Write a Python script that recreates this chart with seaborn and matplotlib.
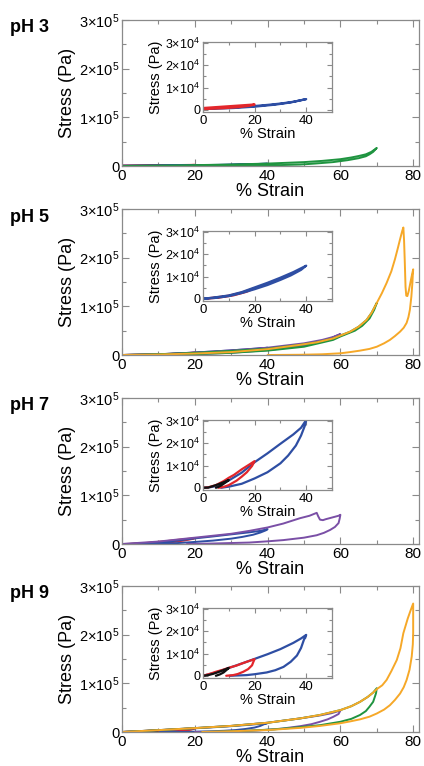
import matplotlib
matplotlib.use("Agg")
import matplotlib.pyplot as plt
import seaborn as sns
from matplotlib.ticker import FixedLocator, MultipleLocator, FuncFormatter

# ---------------------------------------------------------------------------
# DATA  (strain in %, stress in Pa; each loop = loading then unloading)
# ---------------------------------------------------------------------------
PH3_RED_X = [0, 5, 10, 15, 20, 18, 14, 8, 2, 0]
PH3_RED_Y = [800, 1200, 1600, 2000, 2400, 1800, 1200, 700, 400, 300]
PH3_BLUE_X = [0, 5, 10, 15, 20, 25, 30, 35, 40, 38, 34, 28, 20, 12, 5, 0]
PH3_BLUE_Y = [500, 800, 1000, 1300, 1700, 2200, 2800, 3600, 4800, 4300, 3300, 2300, 1400, 800, 500, 400]
PH3_GREEN_X = [0, 10, 20, 30, 40, 50, 55, 60, 63, 65, 67, 68.5, 70,
               69.5, 69, 68, 67, 65, 62, 58, 53, 49, 40, 30, 20]
PH3_GREEN_Y = [0, 800, 1800, 3000, 5000, 8000, 10500, 14000, 17500, 20500, 24000, 29000, 37000,
               33000, 29000, 24000, 20000, 16000, 12000, 8000, 5000, 3000, 1200, 400, 0]

PH5_RED_X = [0, 5, 10, 15, 20, 17, 12, 6, 0]
PH5_RED_Y = [0, 600, 1400, 2800, 4800, 3200, 1600, 500, 0]
PH5_BLUE_X = [0, 5, 10, 15, 20, 25, 30, 35, 40, 38, 34, 30, 25, 20, 15, 10, 5, 0]
PH5_BLUE_Y = [0, 700, 1500, 3000, 5100, 7200, 9500, 12000, 14900,
              13000, 10500, 8500, 6200, 4300, 2600, 1200, 400, 0]
PH5_PURPLE_X = [0, 10, 20, 30, 40, 50, 55, 58, 60, 58, 55, 50, 40, 30, 20, 10, 5]
PH5_PURPLE_Y = [0, 1500, 5000, 9500, 15000, 24000, 31000, 37000, 43000,
                36000, 28000, 19000, 10000, 4500, 1600, 300, 0]
PH5_GREEN_X = [0, 10, 20, 30, 40, 49, 53.5, 58, 62.7, 65, 67.2, 68.6, 70,
               69.3, 68, 66, 64, 60, 58, 50, 40, 30, 21, 10, 0]
PH5_GREEN_Y = [0, 1500, 4500, 8500, 13000, 21000, 26000, 34000, 48000, 58000, 72000, 87000, 107000,
               93000, 75000, 60000, 50000, 38000, 31000, 17000, 9000, 4500, 2000, 300, 0]
PH5_ORANGE_X = [0, 10, 20, 30, 40, 49, 53.5, 58, 62.7, 65, 67.2, 68.6, 70, 71.4, 72.7, 74, 75,
                75.8, 76.4, 77, 77.3,
                77.5, 77.7, 77.9, 78.1, 78.4, 78.8, 79.4, 80,
                79.9, 79.8, 79.5, 79.1, 78.7, 78.2, 77.4, 76.4, 75, 73.6, 72, 70, 68, 65.4,
                62.5, 60, 55, 49, 40]
PH5_ORANGE_Y = [0, 1000, 3000, 6000, 12000, 21000, 26000, 34000, 48000, 58000, 72000, 87000,
                107000, 127000, 148000, 172000, 197000, 220000, 238000, 255000, 262000,
                235000, 190000, 140000, 122000, 121000, 132000, 155000, 176000,
                165000, 150000, 120000, 93000, 78000, 66000, 56000, 48000, 39000, 31000,
                24000, 17000, 12500, 9000, 5800, 3500, 1500, 500, 0]

PH7_BLACK_X = [0, 2, 4, 6, 8, 10, 9, 8, 7, 6, 5]
PH7_BLACK_Y = [0, 100, 800, 1600, 2500, 3500, 2600, 1800, 1000, 400, 0]
PH7_RED_X = [0, 2, 5, 8, 10, 12, 15, 18, 20, 19, 17, 15, 13, 10, 8, 6]
PH7_RED_Y = [0, 200, 1200, 3000, 4500, 5800, 8300, 10500, 12000,
             9800, 7000, 5000, 3200, 1200, 400, 0]
PH7_BLUE_X = [0, 3, 6, 10, 15, 20, 25, 30, 35, 38, 40,
              39.5, 38, 36, 33, 30, 25, 20, 15, 10, 7]
PH7_BLUE_Y = [0, 300, 1000, 3300, 6800, 11500, 15500, 19800, 24000, 27000, 30500,
              28000, 23500, 19000, 14500, 11000, 7000, 4200, 1800, 500, 0]
PH7_PURPLE_X = [0, 10, 20, 30, 35, 40, 44.3, 48.9, 51.5, 53.5, 53.9, 54.4, 55.2, 56, 58, 59.5, 60,
                59.8, 59.5, 58.5, 57.2, 55.5, 53.5, 50, 44.3, 40, 35, 25, 17.8]
PH7_PURPLE_Y = [0, 5000, 13000, 21000, 27000, 34000, 42000, 53000, 58000, 64000, 57000, 50000,
                49000, 51000, 55000, 58000, 60000,
                52000, 43000, 35000, 29000, 23000, 18000, 13000, 8000, 5500, 3000, 1000, 0]

PH9_BLACK_X = [0, 2, 4, 6, 8, 10, 9, 8, 6.5, 5]
PH9_BLACK_Y = [0, 300, 900, 1700, 2600, 3500, 2500, 1500, 600, 0]
PH9_RED_X = [0, 3, 5, 8, 10, 13, 15, 18, 20, 19.5, 19, 17.5, 15.6, 13.5, 11.7, 9]
PH9_RED_Y = [0, 1000, 1800, 2800, 3600, 4600, 5500, 6700, 7500,
             6200, 4700, 3000, 1800, 800, 300, 0]
PH9_BLUE_X = [0, 5, 10, 15, 20, 25, 30, 35, 38, 40,
              39.6, 39.2, 38, 36.4, 34, 31.2, 28, 24.7, 20, 16.9, 10.4]
PH9_BLUE_Y = [0, 1500, 3500, 5500, 7600, 9700, 12000, 14800, 16800, 18400,
              17000, 16500, 12500, 9100, 6300, 4000, 2500, 1500, 700, 300, 0]
PH9_PURPLE_X = [0, 10, 20, 30, 40, 49, 54.4, 57.5, 60,
                59.5, 58, 56.5, 54.4, 52, 49, 44, 38, 32, 26, 20]
PH9_PURPLE_Y = [0, 3800, 8000, 12500, 19000, 28000, 34000, 38500, 44000,
                37000, 31000, 26000, 21000, 16000, 12000, 7000, 3500, 1500, 400, 0]
PH9_GREEN_X = [0, 10, 20, 30, 40, 49, 54.4, 60, 63, 65.4, 67.5, 69, 70,
               69.8, 69.5, 69, 68, 67, 65.4, 63, 60, 54.4, 49, 42, 35, 28, 22]
PH9_GREEN_Y = [0, 3800, 8000, 12500, 19000, 28000, 35000, 45000, 53000, 62000, 72000, 81000, 90000,
               80000, 73000, 62000, 52000, 43000, 35000, 27000, 21000, 14000, 10000, 5500,
               2800, 1000, 0]
PH9_ORANGE_X = [0, 10, 20, 30, 40, 49, 54.4, 60, 63, 65.4, 67.5, 69, 70, 71.5, 72.7, 74, 75.5,
                76.5, 77.3, 78.5, 79.3, 80,
                80, 79.9, 79.6, 79, 78.2, 77.4, 76.4, 75, 73.6, 72, 70, 68, 65.4, 62.5, 60,
                54.4, 49, 40, 30, 22]
PH9_ORANGE_Y = [0, 3800, 8000, 12500, 19000, 28000, 35000, 45000, 53000, 62000, 72000, 81000,
                88000, 96000, 107000, 125000, 148000, 172000, 203000, 233000, 250000, 264000,
                203000, 180000, 155000, 128000, 107000, 92000, 79000, 66000, 55000, 46000,
                38000, 31500, 26000, 21500, 18000, 12500, 8500, 4000, 1500, 0]

COLORS = {"red": "#e3262b", "black": "#111111", "blue": "#2e4ea3",
          "purple": "#7a4fa6", "green": "#1f9440", "orange": "#f6a828"}

PANELS = [
    ("pH 3",
     [("red", PH3_RED_X, PH3_RED_Y), ("blue", PH3_BLUE_X, PH3_BLUE_Y),
      ("green", PH3_GREEN_X, PH3_GREEN_Y)],
     [("blue", PH3_BLUE_X, PH3_BLUE_Y), ("red", PH3_RED_X, PH3_RED_Y)]),
    ("pH 5",
     [("red", PH5_RED_X, PH5_RED_Y), ("blue", PH5_BLUE_X, PH5_BLUE_Y),
      ("purple", PH5_PURPLE_X, PH5_PURPLE_Y), ("green", PH5_GREEN_X, PH5_GREEN_Y),
      ("orange", PH5_ORANGE_X, PH5_ORANGE_Y)],
     [("red", PH5_RED_X, PH5_RED_Y), ("blue", PH5_BLUE_X, PH5_BLUE_Y)]),
    ("pH 7",
     [("red", PH7_RED_X, PH7_RED_Y), ("black", PH7_BLACK_X, PH7_BLACK_Y),
      ("blue", PH7_BLUE_X, PH7_BLUE_Y), ("purple", PH7_PURPLE_X, PH7_PURPLE_Y)],
     [("blue", PH7_BLUE_X, PH7_BLUE_Y), ("red", PH7_RED_X, PH7_RED_Y),
      ("black", PH7_BLACK_X, PH7_BLACK_Y)]),
    ("pH 9",
     [("red", PH9_RED_X, PH9_RED_Y), ("black", PH9_BLACK_X, PH9_BLACK_Y),
      ("blue", PH9_BLUE_X, PH9_BLUE_Y), ("purple", PH9_PURPLE_X, PH9_PURPLE_Y),
      ("green", PH9_GREEN_X, PH9_GREEN_Y), ("orange", PH9_ORANGE_X, PH9_ORANGE_Y)],
     [("blue", PH9_BLUE_X, PH9_BLUE_Y), ("red", PH9_RED_X, PH9_RED_Y),
      ("black", PH9_BLACK_X, PH9_BLACK_Y)]),
]

# ---------------------------------------------------------------------------
# STYLE
# ---------------------------------------------------------------------------
sns.set_theme(style="ticks")
plt.rcParams["font.family"] = ["Liberation Sans", "DejaVu Sans"]
plt.rcParams["mathtext.fontset"] = "custom"
plt.rcParams["mathtext.rm"] = "Liberation Sans"
plt.rcParams["mathtext.it"] = "Liberation Sans:italic"
plt.rcParams["mathtext.bf"] = "Liberation Sans:bold"
plt.rcParams["text.color"] = "black"
plt.rcParams["axes.labelcolor"] = "black"
plt.rcParams["xtick.labelcolor"] = "black"
plt.rcParams["ytick.labelcolor"] = "black"

W, H = 424, 766
SPINE = "#8a8a8a"


def _sci(exp):
    def fmt(v, _pos):
        if v == 0:
            return "0"
        return f"{int(round(v / 10 ** exp))}×10$^{{{exp}}}$"
    return fmt


def _style_axes(ax, exp, tick_size, label_size, xmajor, ymajor):
    for sp in ax.spines.values():
        sp.set_color(SPINE)
        sp.set_linewidth(0.9)
    ax.xaxis.set_major_locator(MultipleLocator(xmajor))
    ax.xaxis.set_minor_locator(MultipleLocator(xmajor / 2))
    ax.yaxis.set_major_locator(FixedLocator([0, ymajor, 2 * ymajor, 3 * ymajor]))
    ax.yaxis.set_minor_locator(MultipleLocator(ymajor / 2))
    ax.yaxis.set_major_formatter(FuncFormatter(_sci(exp)))
    ax.tick_params(which="both", direction="in", top=True, right=True,
                   color=SPINE, width=0.8)
    ax.tick_params(which="major", length=5, pad=2)
    ax.tick_params(which="minor", length=3)
    ax.tick_params(axis="x", labelsize=tick_size + 0.5)
    ax.tick_params(axis="y", labelsize=tick_size)
    ax.set_xlabel("% Strain", fontsize=label_size, labelpad=0)
    ax.set_ylabel("Stress (Pa)", fontsize=label_size, labelpad=2)
    ax.grid(False)


def _draw(ax, curves, lw):
    for color, xs, ys in curves:
        sns.lineplot(x=xs, y=ys, sort=False, estimator=None, color=COLORS[color],
                     linewidth=lw, ax=ax)


fig = plt.figure(figsize=(W / 100, H / 100), dpi=100)

tops = [20, 209, 398, 586]
for (title, main_curves, inset_curves), top in zip(PANELS, tops):
    ax = fig.add_axes([122 / W, 1 - (top + 146) / H, 297 / W, 146 / H])
    _draw(ax, main_curves, 1.4)
    ax.set_xlim(0, 81.6)
    ax.set_ylim(0, 300000)
    _style_axes(ax, 5, 10.5, 13, 20, 100000)

    ins = fig.add_axes([203 / W, 1 - (top + 22 + 70) / H, 129 / W, 70 / H])
    _draw(ins, inset_curves, 1.6)
    ins.set_xlim(0, 50)
    ins.set_ylim(-1000, 30500)
    _style_axes(ins, 4, 9, 10.5, 20, 10000)
    ins.tick_params(which="major", length=3.5)
    ins.tick_params(which="minor", length=2)

    fig.text(10 / W, 1 - (top + 8) / H, title, fontsize=13, fontweight="bold",
             ha="left", va="center")

fig.savefig("out.png", dpi=100)
